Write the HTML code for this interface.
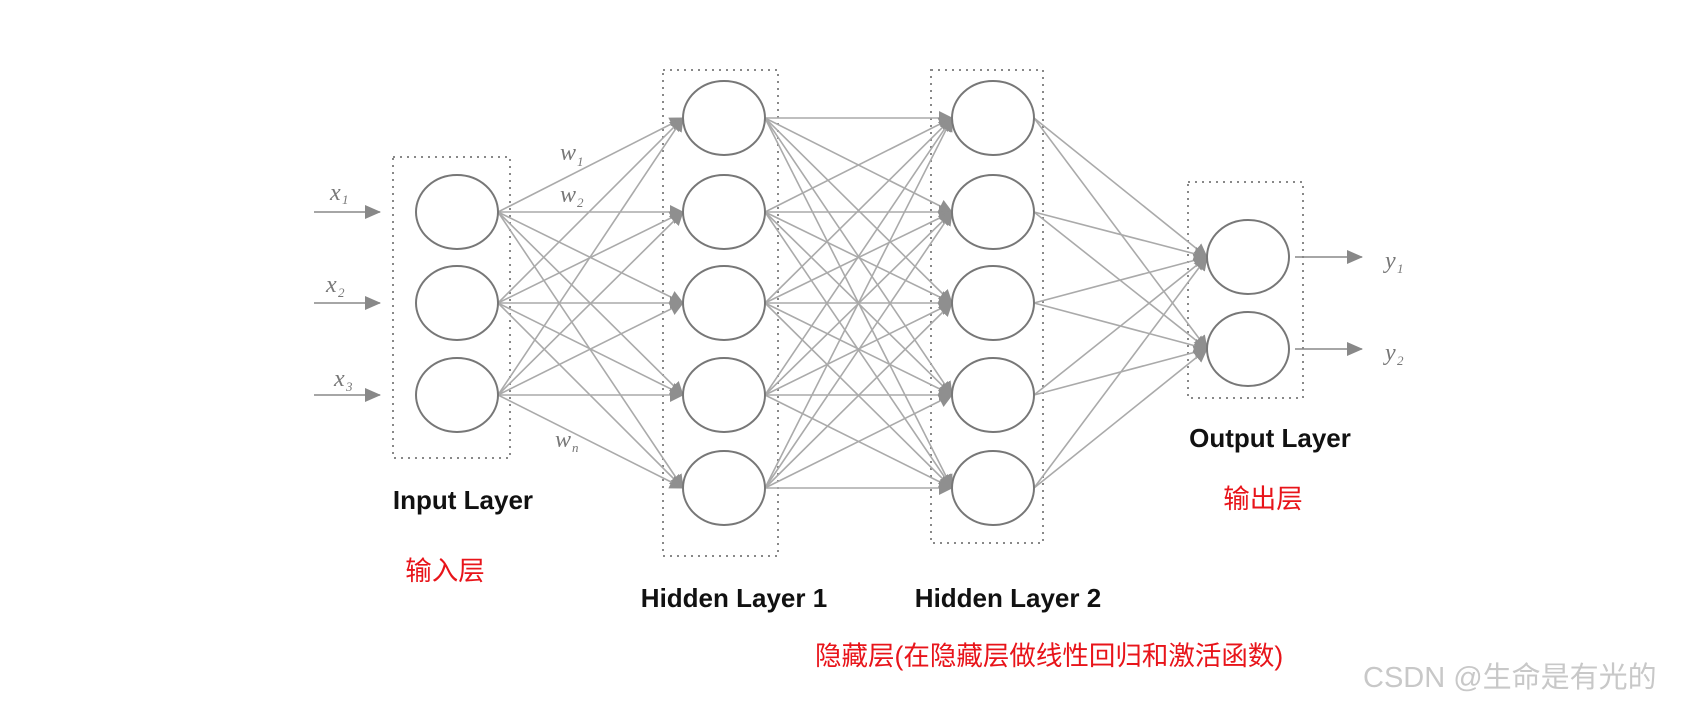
<!DOCTYPE html>
<html><head><meta charset="utf-8"><style>
html,body{margin:0;padding:0;background:#fff;width:1683px;height:707px;overflow:hidden}
svg{display:block}
.b{font-family:"Liberation Sans",sans-serif;font-weight:bold;font-size:26px;fill:#111}
.r{font-family:"Liberation Sans","Noto Sans CJK SC",sans-serif;font-size:26.5px;fill:#e8141a}
.m{font-family:"Liberation Serif",serif;font-style:italic;font-size:24px;fill:#777}
.s{font-family:"Liberation Serif",serif;font-style:italic;font-size:13px;fill:#777}
</style></head><body>
<svg id="g" width="1683" height="707" xmlns="http://www.w3.org/2000/svg">
<defs>
<marker id="a" markerWidth="14" markerHeight="14" refX="13" refY="7" orient="auto" markerUnits="userSpaceOnUse" viewBox="0 0 14 14"><path d="M0,0 L14,7 L0,14z" fill="#8f8f8f"/></marker>
<marker id="a2" markerWidth="16" markerHeight="14" refX="15" refY="7" orient="auto" markerUnits="userSpaceOnUse" viewBox="0 0 16 14"><path d="M0,0 L16,7 L0,14z" fill="#888"/></marker>
</defs>
<g fill="none" stroke="#888" stroke-width="2" stroke-dasharray="2,5">
<rect x="393" y="157" width="117" height="301"/>
<rect x="663" y="70" width="115" height="486"/>
<rect x="931" y="70" width="112" height="473"/>
<rect x="1188" y="182" width="115" height="216"/>
</g>
<g id="lines" stroke="#aaa" stroke-width="1.6" fill="none"></g>
<g id="nodes" fill="#fff" stroke="#777" stroke-width="2"></g>
<g stroke="#888" stroke-width="1.6">
<line x1="314" y1="212" x2="380" y2="212" marker-end="url(#a2)"/>
<line x1="314" y1="303" x2="380" y2="303" marker-end="url(#a2)"/>
<line x1="314" y1="395" x2="380" y2="395" marker-end="url(#a2)"/>
<line x1="1295" y1="257" x2="1362" y2="257" marker-end="url(#a2)"/>
<line x1="1295" y1="349" x2="1362" y2="349" marker-end="url(#a2)"/>
</g>
<text class="m" x="330" y="200">x</text><text class="s" x="342" y="204">1</text>
<text class="m" x="326" y="292">x</text><text class="s" x="338" y="297">2</text>
<text class="m" x="334" y="386">x</text><text class="s" x="346" y="391">3</text>
<text class="m" x="560" y="160">w</text><text class="s" x="577" y="166">1</text>
<text class="m" x="560" y="202">w</text><text class="s" x="577" y="207">2</text>
<text class="m" x="555" y="447">w</text><text class="s" x="572" y="452">n</text>
<text class="m" x="1385" y="268">y</text><text class="s" x="1397" y="273">1</text>
<text class="m" x="1385" y="360">y</text><text class="s" x="1397" y="365">2</text>
<text class="b" x="463" y="509" text-anchor="middle">Input Layer</text>
<text class="b" x="734" y="607" text-anchor="middle">Hidden Layer 1</text>
<text class="b" x="1008" y="607" text-anchor="middle">Hidden Layer 2</text>
<text class="b" x="1270" y="447" text-anchor="middle">Output Layer</text>
<text class="r" x="445" y="580" text-anchor="middle">输入层</text>
<text class="r" x="1263" y="508" text-anchor="middle">输出层</text>
<text class="r" x="815" y="665">隐藏层(在隐藏层做线性回归和激活函数)</text>
<text x="1363" y="687" style="font-family:'Liberation Sans','Noto Sans CJK SC',sans-serif;font-size:29px;fill:#c8c8c8">CSDN @生命是有光的</text>
</svg>
<script>
var NS="http://www.w3.org/2000/svg",rx=41,ry=37;
var L=[{x:457,y:[212,303,395]},{x:724,y:[118,212,303,395,488]},{x:993,y:[118,212,303,395,488]},{x:1248,y:[257,349]}];
var lg=document.getElementById("lines"),ng=document.getElementById("nodes");
for(var i=0;i<3;i++){var A=L[i],B=L[i+1];A.y.forEach(function(a){B.y.forEach(function(b){
var l=document.createElementNS(NS,"line");l.setAttribute("x1",A.x+rx);l.setAttribute("y1",a);
l.setAttribute("x2",B.x-rx);l.setAttribute("y2",b);l.setAttribute("marker-end","url(#a)");lg.appendChild(l);});});}
L.forEach(function(c){c.y.forEach(function(y){var e=document.createElementNS(NS,"ellipse");
e.setAttribute("cx",c.x);e.setAttribute("cy",y);e.setAttribute("rx",rx);e.setAttribute("ry",ry);ng.appendChild(e);});});
</script>
</body></html>
